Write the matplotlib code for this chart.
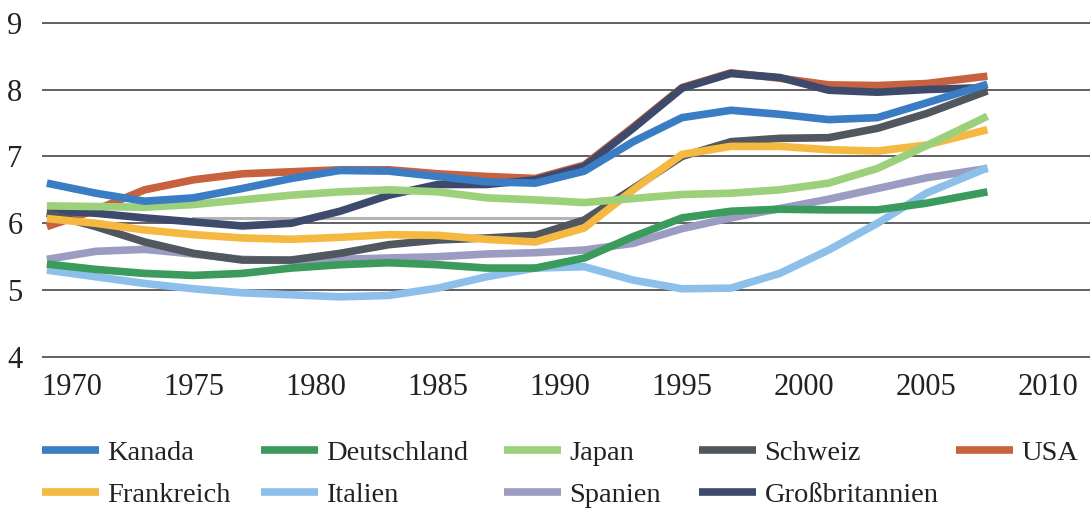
import matplotlib.pyplot as plt

plt.rcParams['font.family'] = ['Liberation Serif', 'DejaVu Serif']

# Jahre (Stuetzstellen)
jahre = [1969, 1971, 1973, 1975, 1977, 1979, 1981, 1983, 1985, 1987,
         1989, 1991, 1993, 1995, 1997, 1999, 2001, 2003, 2005, 2007.5]

kanada = [6.60, 6.45, 6.33, 6.38, 6.52, 6.67, 6.79, 6.78, 6.70, 6.62,
          6.60, 6.78, 7.22, 7.58, 7.69, 7.63, 7.55, 7.58, 7.80, 8.08]
deutschland = [5.39, 5.31, 5.25, 5.22, 5.25, 5.33, 5.38, 5.41, 5.38, 5.33,
               5.33, 5.48, 5.80, 6.08, 6.18, 6.21, 6.20, 6.20, 6.30, 6.47]
japan = [6.26, 6.25, 6.24, 6.28, 6.35, 6.42, 6.47, 6.50, 6.47, 6.38,
         6.35, 6.31, 6.37, 6.43, 6.45, 6.50, 6.60, 6.82, 7.16, 7.60]
schweiz = [6.15, 5.95, 5.72, 5.55, 5.45, 5.45, 5.55, 5.68, 5.75, 5.78,
           5.82, 6.05, 6.52, 7.00, 7.22, 7.27, 7.28, 7.42, 7.64, 7.98]
usa = [5.95, 6.20, 6.50, 6.65, 6.74, 6.77, 6.80, 6.80, 6.74, 6.70,
       6.67, 6.87, 7.44, 8.03, 8.25, 8.17, 8.07, 8.06, 8.09, 8.20]
frankreich = [6.07, 6.00, 5.90, 5.83, 5.78, 5.76, 5.79, 5.83, 5.82, 5.76,
              5.72, 5.93, 6.50, 7.03, 7.15, 7.15, 7.10, 7.08, 7.17, 7.40]
italien = [5.30, 5.20, 5.10, 5.02, 4.96, 4.93, 4.90, 4.92, 5.03, 5.20,
           5.33, 5.35, 5.15, 5.02, 5.03, 5.25, 5.60, 6.00, 6.45, 6.83]
spanien = [5.46, 5.58, 5.61, 5.54, 5.46, 5.44, 5.46, 5.48, 5.50, 5.54,
           5.56, 5.60, 5.70, 5.92, 6.08, 6.22, 6.36, 6.52, 6.68, 6.82]
grossbritannien = [6.19, 6.15, 6.08, 6.02, 5.96, 6.00, 6.18, 6.42, 6.58, 6.58,
                   6.65, 6.85, 7.42, 8.02, 8.24, 8.18, 7.99, 7.96, 8.00, 8.03]

# duenne graue Linie knapp ueber 6 (ohne Legende)
grau_x = [1975, 1991]
grau_y = [6.08, 6.08]

fig = plt.figure(figsize=(10.9, 5.13), dpi=100)
ax = fig.add_axes([42 / 1090, 0.3002, 1 - 42 / 1090, 0.6595])

ax.plot(grau_x, grau_y, color='#b4b4b4', lw=2.2, label='_nolegend_')

serien = [
    ('Spanien', spanien, '#9c9cc2'),
    ('Italien', italien, '#8cc0ea'),
    ('Deutschland', deutschland, '#3a9b5c'),
    ('USA', usa, '#c8613e'),
    ('Großbritannien', grossbritannien, '#3e4a6c'),
    ('Schweiz', schweiz, '#50575e'),
    ('Frankreich', frankreich, '#f5b942'),
    ('Japan', japan, '#9dd07a'),
    ('Kanada', kanada, '#3a7dc4'),
]
linien = {}
for name, werte, farbe in serien:
    linien[name], = ax.plot(jahre, werte, color=farbe, lw=5.5,
                            solid_capstyle='butt', solid_joinstyle='round',
                            label=name)

ax.set_xlim(1968.8, 2011.7)
ax.set_ylim(3.97, 9.03)
ax.set_xticks([1970, 1975, 1980, 1985, 1990, 1995, 2000, 2005, 2010])
ax.set_yticks([4, 5, 6, 7, 8, 9])
ax.yaxis.grid(True, color='#555555', lw=1.3)
ax.set_axisbelow(True)
for s in ax.spines.values():
    s.set_visible(False)
ax.tick_params(axis='both', length=0, labelsize=22, colors='#222222')
ax.tick_params(axis='y', pad=14)
ax.tick_params(axis='x', pad=10)

# Legende: fuenf Spalten, je eigene Legende
spalten = [['Kanada', 'Frankreich'], ['Deutschland', 'Italien'],
           ['Japan', 'Spanien'], ['Schweiz', 'Großbritannien'], ['USA']]
spalten_x = [42, 261, 504, 699, 956]
for namen, x in zip(spalten, spalten_x):
    leg = fig.legend([linien[n] for n in namen], namen, loc='upper left',
                     bbox_to_anchor=(x / 1090, 0.142), frameon=False,
                     fontsize=20.5, handlelength=2.0, handletextpad=0.3,
                     labelspacing=0.55, borderpad=0, borderaxespad=0)
    for t in leg.get_texts():
        t.set_color('#222222')

fig.savefig('out.png', dpi=100)
